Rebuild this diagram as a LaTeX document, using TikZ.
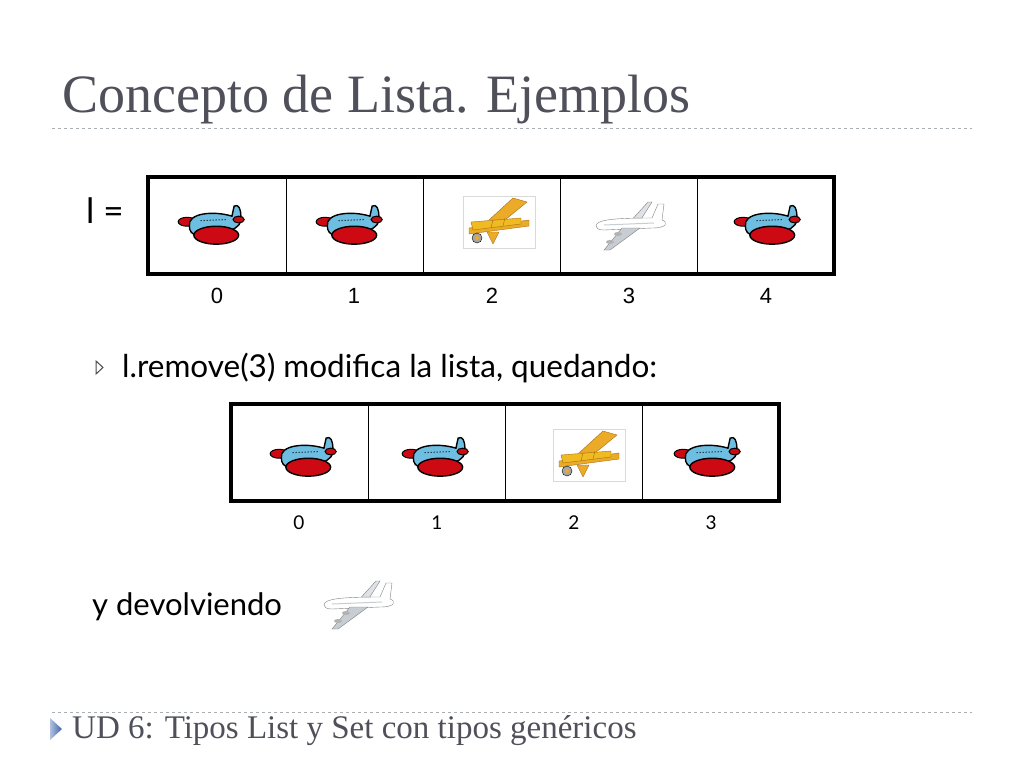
\documentclass[tikz,border=0pt]{standalone}
\usepackage{fontspec}
\setmainfont{Liberation Serif}
\newfontfamily\gill{Lato}
\newfontfamily\arial{Liberation Sans}
\definecolor{titlegray}{RGB}{80,80,90}
\definecolor{planeblue}{RGB}{110,190,225}
\definecolor{planered}{RGB}{205,10,20}
\definecolor{bporange}{RGB}{235,170,40}
\definecolor{bpdark}{RGB}{170,110,20}
\definecolor{jetgray}{RGB}{200,205,212}
\definecolor{dashgray}{RGB}{170,175,180}
\definecolor{footblue}{RGB}{60,100,170}
\tikzset{
  cell/.style={draw=black, line width=1pt},
  outerbox/.style={draw=black, line width=3.5pt},
  idx/.style={font=\arial\fontsize{22}{22}\selectfont, anchor=base},
  idxs/.style={font=\gill\fontsize{19}{19}\selectfont, anchor=base},
  toyplane/.pic={
    \begin{scope}[scale=1.12]
    \fill[planered, draw=black, line width=1pt] (-24,-2) ellipse (8 and 4);
    \fill[planeblue, draw=black, line width=1.4pt] (-22,2) .. controls (-24,-10) and (0,-12) .. (16,-7)
        -- (18,-16) .. controls (22,-18) and (24,-14) .. (24,-6)
        .. controls (26,4) and (10,10) .. (-14,10) .. controls (-20,10) and (-22,6) .. (-22,2) -- cycle;
    \fill[planered, draw=black, line width=1pt] (22,-4) ellipse (5 and 3);
    \draw[black, line width=1pt, dotted] (-12,-3) -- (12,-4);
    \fill[planered, draw=black, line width=1.4pt] (2,10) ellipse (20 and 8);
    \end{scope}
  },
  biplane/.pic={
    \draw[black!15, fill=white] (-36,-26) rectangle (36,26);
    \fill[bporange, draw=bpdark] (-10,-2) -- (14,-24) -- (28,-20) -- (6,-2) -- cycle;
    \fill[bporange, draw=bpdark] (-30,6) -- (30,-2) -- (30,4) -- (-30,12) -- cycle;
    \fill[bporange!80!yellow, draw=bpdark] (-28,0) -- (22,-4) -- (22,2) -- (-26,8) -- cycle;
    \draw[bpdark] (-6,-2) -- (-8,6) (6,-4) -- (4,4);
    \fill[bporange, draw=bpdark] (-12,10) -- (-6,22) -- (0,10) -- cycle;
    \fill[gray!70, draw=black] (-22,16) circle (5);
    \fill[bporange] (-22,16) circle (2);
  },
  jet/.pic={
    \fill[jetgray!60, draw=gray] (-4,0) -- (16,-22) -- (20,-22) -- (6,0) -- cycle;
    \fill[white, draw=gray] (-36,2) .. controls (-36,-4) and (-20,-6) .. (20,-6)
        -- (26,-20) -- (32,-20) -- (30,-4) .. controls (36,-2) and (36,4) .. (20,4)
        -- (-28,6) .. controls (-34,6) and (-36,4) .. (-36,2) -- cycle;
    \draw[jetgray, line width=1pt] (-28,1) -- (22,-1);
    \fill[jetgray, draw=gray] (-10,4) -- (-28,26) -- (-22,26) -- (8,4) -- cycle;
    \fill[gray!60] (-14,10) ellipse (4 and 2);
    \fill[gray!60] (-22,18) ellipse (4 and 2);
  }
}
\begin{document}
\begin{tikzpicture}[x=1pt,y=-1pt]
\useasboundingbox (0,0) rectangle (1024,768);
\fill[white] (0,0) rectangle (1024,768);
% title
\node[anchor=base west, inner sep=0, text=titlegray, font=\fontsize{54}{54}\selectfont] (title) at (62,112) {Concepto de Lista. Ejemplos};
\draw[dashgray, dashed, line width=1pt] (52,128) -- (972,128);
% l =
\node[anchor=base west, inner sep=0, font=\gill\fontsize{35}{35}\selectfont] (leq) at (86,223) {l =};
% first list
\foreach \x in {286,423,560,697} \draw[cell] (\x,177) -- (\x,274);
\draw[outerbox] (148,177) rectangle (834,274);
\pic at (214,224) {toyplane};
\pic at (352,224) {toyplane};
\pic at (499,222) {biplane};
\pic at (632,224) {jet};
\pic at (770,224) {toyplane};
\foreach \c/\t in {217/0,354/1,492/2,629/3,766/4} \node[idx] at (\c,303) {\t};
% bullet
\draw[black!70, line width=1pt, fill=white] (96,361) -- (103,367.5) -- (96,374) -- cycle;
\node[anchor=base west, inner sep=0, font=\gill\fontsize{31.5}{31.5}\selectfont] (rem) at (122,377) {l.remove(3) modifica la lista, quedando:};
% second list
\foreach \x in {368,505,642} \draw[cell] (\x,404) -- (\x,501);
\draw[outerbox] (231,404) rectangle (779,501);
\pic at (306,456) {toyplane};
\pic at (438,456) {toyplane};
\pic at (589,455) {biplane};
\pic at (710,456) {toyplane};
\foreach \c/\t in {299/0,437/1,574/2,711/3} \node[idxs] at (\c,529) {\t};
% y devolviendo
\node[anchor=base west, inner sep=0, font=\gill\fontsize{31}{31}\selectfont] (dev) at (92,615) {y devolviendo};
\pic at (360,603) {jet};
% footer
\draw[dashgray, dashed, line width=1pt] (52,712) -- (972,712);
\shade[left color=footblue!40, right color=footblue] (50,718) -- (62,729) -- (50,740) -- cycle;
\node[anchor=base west, inner sep=0, text=titlegray, font=\fontsize{33}{33}\selectfont] (foot) at (72,738) {UD 6: Tipos List y Set con tipos genéricos};
\end{tikzpicture}
\end{document}
